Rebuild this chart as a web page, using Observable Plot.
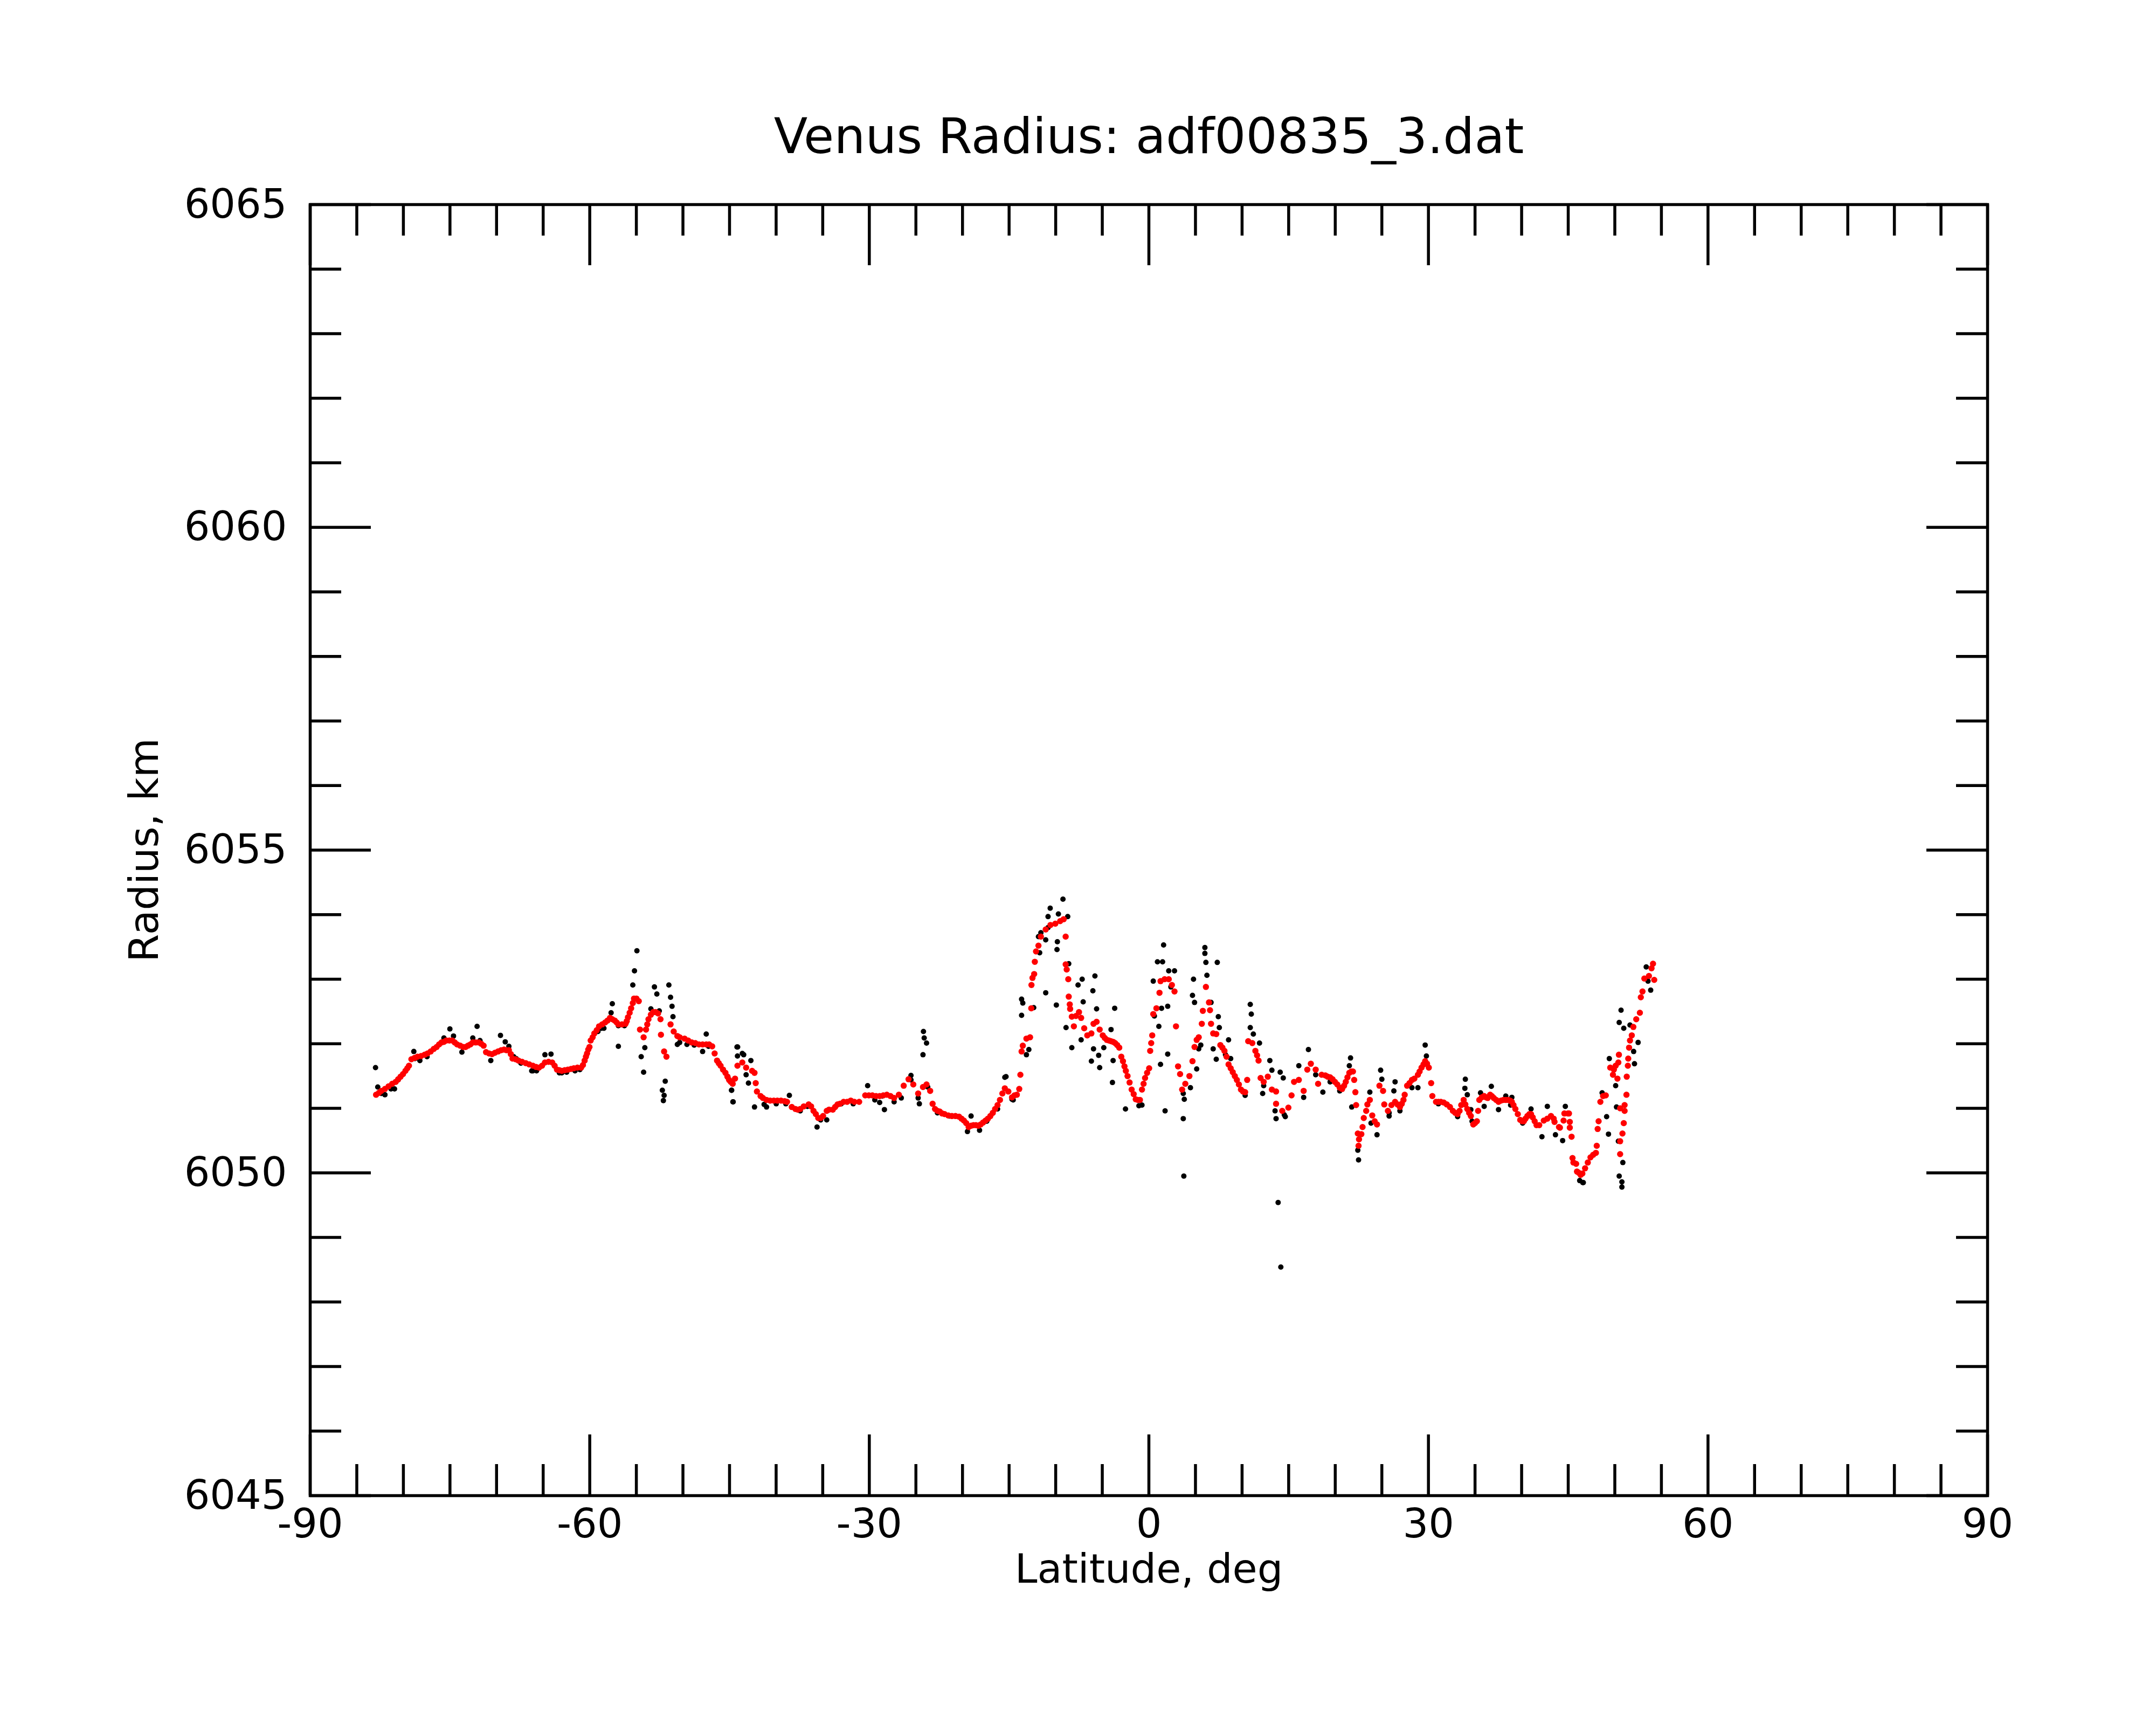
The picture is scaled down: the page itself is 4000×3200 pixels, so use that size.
<!DOCTYPE html>
<html>
<head>
<meta charset="utf-8">
<script src="https://cdn.jsdelivr.net/npm/d3@7"></script>
<script src="https://cdn.jsdelivr.net/npm/@observablehq/plot@0.6"></script>
<style>
html, body { margin: 0; padding: 0; background: #ffffff; }
svg { display: block; }
</style>
</head>
<body>
<div id="chart"></div>
<script>
// ---- text ----
const titleText = "Venus Radius: adf00835_3.dat";
const xLabelText = "Latitude, deg";
const yLabelText = "Radius, km";

// ---- ticks ----
const xMajorTicks = [-90, -60, -30, 0, 30, 60, 90];
const xMinorTicks = [-85, -80, -75, -70, -65, -55, -50, -45, -40, -35, -25, -20, -15, -10, -5,
  5, 10, 15, 20, 25, 35, 40, 45, 50, 55, 65, 70, 75, 80, 85];
const yMajorTicks = [6045, 6050, 6055, 6060, 6065];
const yMinorTicks = [6046, 6047, 6048, 6049, 6051, 6052, 6053, 6054, 6056, 6057, 6058, 6059,
  6061, 6062, 6063, 6064];

// ---- red (smoothed) series: [latitude, radius] ----
const redSouth = [
  [-82.93,6051.21],[-82.62,6051.24],[-82.37,6051.27],[-81.98,6051.30],[-81.59,6051.34],[-81.20,6051.38],
  [-80.82,6051.41],[-80.56,6051.45],[-80.30,6051.49],[-80.04,6051.53],[-79.78,6051.58],[-79.58,6051.62],
  [-79.40,6051.66],[-79.14,6051.76],[-78.80,6051.78],[-78.49,6051.80],[-78.10,6051.81],[-77.72,6051.83],
  [-77.41,6051.85],[-77.07,6051.88],[-76.74,6051.92],[-76.43,6051.95],[-76.17,6051.99],[-75.91,6052.02],
  [-75.65,6052.03],[-75.39,6052.05],[-75.06,6052.05],[-74.75,6052.05],[-74.49,6052.02],[-74.23,6051.99],
  [-73.90,6051.97],[-73.59,6051.95],[-73.33,6051.95],[-73.07,6051.97],[-72.81,6051.99],[-72.55,6052.02],
  [-72.24,6052.02],[-71.91,6052.02],[-71.65,6052.00],[-71.39,6051.97],[-71.13,6051.87],[-70.80,6051.85],
  [-70.49,6051.84],[-70.18,6051.86],[-69.84,6051.88],[-69.51,6051.90],[-69.20,6051.91],[-68.94,6051.90],
  [-68.68,6051.90],[-68.47,6051.84],[-68.29,6051.77],[-67.96,6051.76],[-67.65,6051.74],[-67.26,6051.72],
  [-66.87,6051.70],[-66.49,6051.68],[-66.10,6051.66],[-65.76,6051.64],[-65.45,6051.63],[-65.12,6051.66],
  [-64.81,6051.71],[-64.42,6051.72],[-64.03,6051.71],[-63.77,6051.66],[-63.52,6051.60],[-63.26,6051.59],
  [-63.00,6051.58],[-62.69,6051.59],[-62.35,6051.60],[-62.02,6051.61],[-61.71,6051.62],[-61.32,6051.63],
  [-60.93,6051.63],[-60.73,6051.67],[-60.55,6051.74],[-60.41,6051.80],[-60.29,6051.85],[-60.16,6051.91],
  [-60.03,6051.95],[-59.90,6052.05],[-59.69,6052.10],[-59.51,6052.16],[-59.25,6052.21],[-59.00,6052.27],
  [-58.66,6052.30],[-58.35,6052.33],[-58.09,6052.36],[-57.83,6052.40],[-57.58,6052.38],[-57.32,6052.36],
  [-57.11,6052.33],[-56.93,6052.30],[-56.54,6052.30],[-56.16,6052.31],[-56.03,6052.35],[-55.90,6052.41],
  [-55.72,6052.48],[-55.56,6052.55],[-55.38,6052.63],[-55.25,6052.70],[-54.99,6052.70],[-54.74,6052.66],
  [-54.61,6052.22],[-54.22,6052.10],[-53.96,6052.22],[-53.83,6052.30],[-53.70,6052.38],[-53.44,6052.45],
  [-53.19,6052.49],[-52.93,6052.49],[-52.67,6052.47],[-52.41,6052.38],[-52.36,6052.14],[-52.02,6051.88],
  [-51.77,6051.80],[-51.33,6052.30],[-50.99,6052.19],[-50.60,6052.12],[-50.35,6052.10],[-49.83,6052.08],
  [-49.44,6052.05],[-49.05,6052.02],[-48.67,6052.01],[-48.28,6051.99],[-47.89,6051.99],[-47.50,6051.99],
  [-47.19,6051.99],[-46.86,6051.96],[-46.60,6051.85],[-46.34,6051.74],[-46.16,6051.70],[-45.96,6051.66],
  [-45.70,6051.60],[-45.44,6051.55],[-45.23,6051.49],[-45.05,6051.44],[-44.87,6051.41],[-44.66,6051.38],
  [-44.41,6051.46],[-44.15,6051.66],[-43.63,6051.71]
];
const redMid = [
  [-43.22,6051.63],[-42.58,6051.58],[-42.32,6051.55],[-42.19,6051.39],[-42.06,6051.26],[-41.67,6051.19],
  [-41.42,6051.16],[-41.03,6051.13],[-40.64,6051.12],[-40.25,6051.12],[-39.87,6051.12],[-39.48,6051.12],
  [-39.09,6051.11],[-38.83,6051.10],[-38.32,6051.02],[-37.93,6050.99],[-37.67,6050.98],[-37.41,6050.99],
  [-37.03,6051.03],[-36.51,6051.06],[-36.25,6051.03],[-35.99,6050.96],[-35.74,6050.91],[-35.48,6050.85],
  [-35.22,6050.85],[-34.96,6050.88],[-34.57,6050.96],[-34.32,6050.98],[-33.92,6050.98],[-33.67,6051.02],
  [-33.41,6051.06],[-33.15,6051.07],[-32.76,6051.10],[-32.38,6051.10],[-31.99,6051.12],[-31.60,6051.10],
  [-31.09,6051.10],[-30.44,6051.20],[-30.05,6051.20],[-29.67,6051.20],[-29.28,6051.19],[-28.89,6051.19],
  [-28.50,6051.20],[-28.12,6051.21],[-27.73,6051.19],[-27.34,6051.16],[-26.83,6051.21],[-26.31,6051.35],
  [-25.79,6051.45],[-25.28,6051.37],[-24.76,6051.23],[-24.24,6051.33],[-23.86,6051.37],[-23.47,6051.27],
  [-23.21,6051.07],[-22.95,6050.99],[-22.69,6050.96],[-22.44,6050.95],[-22.18,6050.92],[-21.92,6050.91],
  [-21.53,6050.89],[-21.14,6050.88],[-20.76,6050.88],[-20.37,6050.87],[-20.11,6050.84],[-19.85,6050.81],
  [-19.60,6050.77],[-19.34,6050.71],[-19.08,6050.73],[-18.82,6050.74],[-18.56,6050.74],[-18.30,6050.73],
  [-18.05,6050.75],[-17.79,6050.78],[-17.53,6050.81],[-17.27,6050.84],[-17.01,6050.88],[-16.75,6050.93],
  [-16.50,6050.99],[-16.24,6051.05],[-15.98,6051.13],[-15.72,6051.23],[-15.46,6051.31],[-15.08,6051.26],
  [-14.69,6051.17],[-14.43,6051.20],[-14.17,6051.21],[-13.91,6051.30],[-13.79,6051.52],[-13.66,6051.88],
  [-13.53,6051.97],[-13.14,6052.08],[-12.75,6052.10],[-12.62,6052.55],[-12.60,6052.91],[-12.49,6053.02],
  [-12.31,6053.08],[-12.24,6053.27],[-12.11,6053.43],[-11.85,6053.52],[-11.59,6053.66],[-11.07,6053.77],
  [-10.56,6053.84],[-10.04,6053.86],[-9.52,6053.90],[-9.14,6053.93]
];
const redEquator = [
  [-8.93,6053.66],[-8.93,6053.23],[-8.82,6053.15],[-8.65,6053.00],[-8.60,6052.73],[-8.49,6052.61],
  [-8.45,6052.54],[-8.27,6052.42],[-8.05,6052.27],[-7.83,6052.43],[-7.50,6052.49],[-7.27,6052.40],
  [-6.94,6052.24],[-6.61,6052.13],[-6.17,6052.16],[-5.94,6052.31],[-5.61,6052.34],[-5.28,6052.22],
  [-4.95,6052.13],[-4.73,6052.09],[-4.51,6052.06],[-4.28,6052.05],[-4.06,6052.04],[-3.84,6052.03],
  [-3.62,6052.01],[-3.40,6051.98],[-3.18,6051.94],[-2.96,6051.80],[-2.78,6051.73],[-2.62,6051.65],
  [-2.47,6051.58],[-2.29,6051.50],[-2.07,6051.40],[-1.85,6051.29],[-1.63,6051.22],[-1.41,6051.14],
  [-1.18,6051.13],[-0.96,6051.13],[-0.74,6051.29],[-0.57,6051.38],[-0.41,6051.47],[-0.19,6051.55],
  [0.03,6051.62],[0.14,6051.89],[0.25,6052.01],[0.36,6052.13],[0.47,6052.46],
  [0.81,6052.55],[1.14,6052.79],[1.25,6052.97],[1.69,6053.00],[2.13,6053.00],[2.47,6052.91],
  [2.75,6052.81],[2.91,6052.27],[3.13,6051.65],[3.35,6051.53],[3.57,6051.29],[3.91,6051.38],
  [4.35,6051.50],[4.68,6051.73],[4.90,6051.95],[5.13,6052.06],[5.35,6052.10],[5.68,6052.31],
  [5.79,6052.51],[6.12,6052.88],[6.45,6052.64],[6.56,6052.52],[6.67,6052.31],[6.90,6052.16],
  [7.23,6052.15],[7.67,6051.98],[7.89,6051.94],[8.11,6051.89],[8.33,6051.80],[8.55,6051.68],
  [8.78,6051.62],[9.00,6051.56],[9.22,6051.50],[9.44,6051.44],[9.66,6051.37],[9.88,6051.29],
  [10.10,6051.26],[10.33,6051.25],[10.55,6051.44],[10.66,6052.04],[11.10,6052.01],[11.43,6051.89],
  [11.61,6051.82],[11.77,6051.74],[11.99,6051.47],[12.32,6051.41],[12.76,6051.49],[13.20,6051.29],
  [13.65,6051.26],[13.65,6051.07],[14.31,6050.96],[14.97,6051.01],[15.31,6051.20]
];
const redNorth = [
  [15.58,6051.41],[16.09,6051.44],[16.61,6051.27],[17.00,6051.60],[17.38,6051.69],[17.90,6051.60],
  [18.16,6051.38],[18.54,6051.52],[18.93,6051.51],[19.19,6051.49],[19.45,6051.48],[19.71,6051.45],
  [19.96,6051.41],[20.22,6051.37],[20.48,6051.32],[20.74,6051.30],[20.95,6051.35],[21.13,6051.41],
  [21.31,6051.48],[21.51,6051.55],[21.72,6051.57],[21.90,6051.57],[22.03,6051.44],[22.16,6051.25],
  [22.24,6051.05],[22.42,6050.61],[22.50,6050.42],[22.55,6050.52],[22.80,6050.60],[22.93,6050.71],
  [23.06,6050.85],[23.32,6050.96],[23.45,6051.06],[23.71,6051.13],[23.97,6050.89],[24.23,6050.80],
  [24.48,6050.75],[24.74,6051.35],[25.13,6051.27],[25.26,6051.06],[25.65,6050.96],[26.03,6051.05],
  [26.42,6051.10],[26.68,6051.06],[26.94,6051.02],[27.14,6051.07],[27.32,6051.13],[27.45,6051.21],
  [27.71,6051.35],[27.97,6051.39],[28.23,6051.44],[28.49,6051.46],[28.87,6051.52],[29.05,6051.57],
  [29.26,6051.63],[29.47,6051.68],[29.65,6051.73],[29.85,6051.69],[30.04,6051.63],[30.29,6051.39],
  [30.42,6051.19],[30.81,6051.10],[31.07,6051.10],[31.33,6051.10],[31.64,6051.09],[31.97,6051.06],
  [32.31,6051.02],[32.62,6050.96],[32.88,6050.93],[33.13,6050.91],[33.34,6050.96],[33.52,6051.05],
  [33.78,6051.13],[33.96,6051.06],[34.17,6050.99],[34.37,6050.93],[34.55,6050.88],[34.81,6050.75],
  [34.99,6050.77],[35.20,6050.80],[35.33,6050.96],[35.46,6051.13],[35.72,6051.17],[35.98,6051.19],
  [36.18,6051.17],[36.36,6051.16],[36.62,6051.21],[36.80,6051.19],[37.01,6051.16],[37.27,6051.13],
  [37.52,6051.10],[37.78,6051.12],[38.04,6051.13],[38.30,6051.13],[38.56,6051.13],[38.76,6051.12],
  [38.95,6051.10],[39.13,6051.05],[39.33,6050.99],[39.59,6050.91],[39.85,6050.82],[40.06,6050.80],
  [40.24,6050.80],[40.42,6050.84],[40.62,6050.88],[40.83,6050.91],[41.01,6050.91],[41.19,6050.86],
  [41.40,6050.80],[41.60,6050.74]
];
const redFarNorth = [
  [41.89,6050.74],[42.38,6050.81],[42.76,6050.84],[43.15,6050.88],[43.44,6050.84],[43.53,6050.79],
  [44.01,6050.71],[44.11,6050.70],[44.50,6050.81],[44.59,6050.92],[44.98,6050.92],[45.08,6050.92],
  [45.17,6050.79],[45.17,6050.70],[45.36,6050.56],[45.46,6050.23],[45.56,6050.16],[45.85,6050.14],
  [45.94,6050.02],[46.14,6050.00],[46.33,6049.97],[46.52,6049.99],[46.81,6050.07],[47.10,6050.16],
  [47.39,6050.24],[47.68,6050.28],[47.97,6050.31],[48.06,6050.42],[48.16,6050.68],[48.26,6050.80],
  [48.45,6051.10],[48.74,6051.19],[49.03,6051.20],[49.51,6051.63],[49.80,6051.52],[49.90,6051.60],
  [50.09,6051.66],[50.28,6051.46],[50.38,6051.71],[50.44,6051.83],[50.57,6051.00],[51.05,6051.05],
  [51.05,6050.96],[50.96,6050.77],[50.82,6050.61],[50.57,6050.49],[50.57,6050.29],[51.25,6051.21],
  [51.28,6051.49],[51.40,6051.66],[51.44,6051.77],[51.53,6051.94],[51.63,6052.05],[51.82,6052.13],
  [51.99,6052.26],[52.30,6052.38],[52.69,6052.48],[52.79,6052.72],[52.97,6052.81],[53.17,6053.01],
  [53.66,6053.05],[54.23,6052.99],[53.94,6053.17],[54.10,6053.24]
];

// ---- black (raw) series: [latitude, radius] ----
const blackSouth = [
  [-82.99,6051.63],[-82.75,6051.33],[-82.37,6051.23],[-81.98,6051.21],[-81.33,6051.30],[-80.95,6051.30],
  [-80.56,6051.44],[-78.88,6051.88],[-78.75,6051.77],[-78.23,6051.74],[-77.46,6051.80],[-75.65,6052.09],
  [-75.01,6052.23],[-74.62,6052.12],[-73.72,6051.87],[-72.09,6052.27],[-72.55,6052.09],[-71.78,6052.05],
  [-70.62,6051.74],[-69.58,6052.13],[-69.07,6052.03],[-68.68,6051.96],[-68.16,6051.80],[-67.90,6051.77],
  [-67.39,6051.70],[-66.23,6051.58],[-66.10,6051.58],[-65.71,6051.58],[-64.81,6051.83],[-64.16,6051.84],
  [-63.26,6051.55],[-63.00,6051.55],[-62.48,6051.56],[-61.58,6051.58],[-61.06,6051.60],[-59.12,6052.19],
  [-58.74,6052.24],[-58.48,6052.24],[-57.58,6052.62],[-57.71,6052.48],[-56.93,6051.96],[-56.93,6052.28],
  [-56.28,6052.28],[-55.38,6052.91],[-55.20,6053.13],[-54.94,6053.44],[-54.48,6051.80],[-54.22,6051.56],
  [-54.09,6051.94],[-53.44,6052.54],[-53.06,6052.88],[-52.80,6052.77],[-52.54,6052.51],[-51.90,6051.42],
  [-52.21,6051.28],[-52.02,6051.20],[-52.10,6051.12],[-51.51,6052.91],[-51.33,6052.72],[-51.17,6052.58],
  [-51.07,6052.42],[-50.60,6051.99],[-50.35,6052.02],[-49.57,6051.99],[-48.79,6051.98],[-47.50,6052.15],
  [-47.89,6051.88],[-47.25,6051.96],[-45.70,6051.60],[-45.18,6051.49],[-44.79,6051.28],[-44.61,6051.10],
  [-44.20,6051.95],[-44.15,6051.81],[-43.63,6051.85]
];
const blackMid = [
  [-44.13,6051.95],[-43.48,6051.83],[-42.71,6051.74],[-43.22,6051.52],[-42.97,6051.39],[-44.64,6051.10],
  [-44.77,6051.28],[-42.32,6051.02],[-41.29,6051.06],[-41.03,6051.02],[-39.99,6051.07],[-38.96,6051.07],
  [-38.58,6051.20],[-37.41,6050.96],[-36.64,6051.03],[-35.61,6050.71],[-35.22,6050.82],[-34.57,6050.82],
  [-33.02,6051.07],[-31.73,6051.07],[-30.18,6051.35],[-29.41,6051.13],[-28.63,6051.19],[-28.38,6050.98],
  [-28.89,6051.09],[-27.34,6051.10],[-26.57,6051.16],[-25.53,6051.51],[-25.53,6051.44],[-24.76,6051.16],
  [-24.63,6051.07],[-24.19,6052.19],[-24.11,6052.09],[-23.86,6052.01],[-24.24,6051.83],[-23.73,6051.33],
  [-22.69,6050.93],[-21.40,6050.88],[-20.11,6050.84],[-19.47,6050.64],[-19.08,6050.88],[-18.17,6050.66],
  [-17.40,6050.80],[-16.24,6050.99],[-15.46,6051.48],[-15.33,6051.49],[-14.69,6051.14],[-14.56,6051.13],
  [-13.66,6052.69],[-13.53,6052.63],[-13.66,6052.44],[-13.14,6051.83],[-12.88,6051.91],[-12.36,6052.56],
  [-11.85,6053.66],[-11.72,6053.41],[-11.59,6053.72],[-11.07,6053.61],[-10.82,6053.80],[-10.82,6053.97],
  [-11.07,6052.79],[-10.59,6054.10]
];
const blackEquator = [
  [-9.22,6054.24],[-9.71,6054.01],[-8.71,6053.97],[-9.82,6053.58],[-9.86,6053.46],[-9.93,6052.60],
  [-8.60,6053.24],[-7.16,6053.00],[-5.79,6053.05],[-7.60,6052.91],[-6.01,6052.82],[-7.05,6052.65],
  [-5.61,6052.54],[-3.67,6052.55],[-8.89,6052.25],[-8.27,6051.94],[-7.27,6052.06],[-5.94,6051.92],
  [-5.39,6051.82],[-6.17,6051.73],[-5.28,6051.63],[-4.84,6051.94],[-4.06,6052.22],[-3.84,6051.74],
  [-3.91,6051.40],[-2.51,6050.99],[-1.07,6051.04],[-0.74,6051.05],[0.47,6052.97],[0.59,6052.43],
  [0.92,6053.27],[1.36,6052.55],[1.47,6053.27],[1.58,6053.53],[2.13,6053.13],[2.36,6052.88],
  [2.75,6053.13],[1.07,6052.27],[1.25,6051.68],[2.02,6052.58],[2.02,6051.84],[1.74,6050.96],
  [3.69,6050.84],[3.69,6051.23],[3.80,6051.14],[3.75,6049.95],[4.46,6051.32],[4.79,6053.00],
  [4.68,6052.75],[4.90,6052.64],[5.57,6051.98],[6.01,6053.49],[6.01,6053.40],[6.12,6053.26],
  [7.34,6053.26],[6.23,6053.06],[6.67,6052.64],[7.45,6052.42],[7.56,6052.25],[6.90,6051.92],
  [7.23,6051.76],[8.55,6052.06],[8.22,6051.83],[8.78,6051.77],[5.13,6051.61],[5.35,6051.92],
  [10.33,6051.20],[10.88,6052.61],[10.99,6052.46],[10.88,6052.25],[11.21,6052.15],[11.87,6052.01],
  [12.21,6051.23],[12.32,6051.35],[12.98,6051.74],[13.20,6051.59],[13.54,6050.96],[13.65,6050.84],
  [13.87,6049.54],[14.16,6048.54],[14.09,6051.56],[14.42,6051.47],[14.53,6050.90],[14.64,6050.87]
];
const blackNorth = [
  [16.09,6051.66],[16.61,6051.17],[17.12,6051.91],[17.90,6051.52],[18.67,6051.25],[19.45,6051.41],
  [20.48,6051.27],[21.64,6051.78],[21.51,6051.66],[21.77,6051.02],[22.42,6050.35],[22.50,6050.20],
  [23.71,6051.25],[23.84,6050.77],[24.48,6050.59],[24.87,6051.59],[25.00,6051.45],[25.78,6050.93],
  [26.42,6051.41],[26.29,6051.27],[25.78,6050.88],[26.94,6050.96],[28.23,6051.32],[28.87,6051.32],
  [29.65,6051.98],[29.78,6051.81],[31.07,6051.07],[33.13,6050.87],[33.96,6051.45],[33.91,6051.31],
  [34.17,6051.21],[34.55,6050.98],[34.68,6050.80],[35.59,6051.24],[35.98,6051.03],[36.75,6051.34],
  [37.52,6050.98],[38.30,6051.19],[38.82,6051.05],[38.95,6051.17],[40.11,6050.77],[41.01,6050.99]
];
const blackFarNorth = [
  [42.76,6051.03],[44.69,6051.03],[42.18,6050.56],[43.63,6050.59],[44.40,6050.50],[46.23,6049.88],
  [46.56,6049.85],[46.62,6049.85],[49.12,6050.87],[49.32,6050.60],[48.64,6051.24],[49.41,6051.77],
  [50.47,6052.33],[50.67,6052.52],[50.96,6052.24],[51.63,6052.29],[52.50,6052.02],[52.02,6051.88],
  [52.11,6051.69],[50.09,6051.35],[50.18,6051.02],[50.38,6050.49],[50.86,6050.16],[50.47,6049.95],
  [50.76,6049.86],[50.76,6049.78],[53.37,6053.19],[53.85,6052.83],[53.56,6052.97]
];

const redData = [...redSouth, ...redMid, ...redEquator, ...redNorth, ...redFarNorth];
const blackData = [...blackSouth, ...blackMid, ...blackEquator, ...blackNorth, ...blackFarNorth];

// ---- layout ----
const W = 4000, H = 3200;
const mL = 575, mR = 313, mT = 379, mB = 426;
const FW = W - mL - mR, FH = H - mT - mB;
const majorLen = 113, minorLen = 58, lw = 5.5;
const tickFont = 75, titleFont = 91.5;

const chart = Plot.plot({
  width: W, height: H,
  marginLeft: mL, marginRight: mR, marginTop: mT, marginBottom: mB,
  x: {domain: [-90, 90]},
  y: {domain: [6045, 6065]},
  style: {fontFamily: "DejaVu Sans", background: "#ffffff", color: "#000000", overflow: "visible"},
  marks: [
    Plot.dot(blackData, {x: d => d[0], y: d => d[1], r: 5, fill: "#000000"}),
    Plot.dot(redData, {x: d => d[0], y: d => d[1], r: 5.75, fill: "#ff0000"}),
    Plot.frame({stroke: "#000000", strokeWidth: lw}),
    Plot.tickX(xMajorTicks, {x: d => d, insetTop: FH - majorLen, stroke: "#000", strokeWidth: lw}),
    Plot.tickX(xMajorTicks, {x: d => d, insetBottom: FH - majorLen, stroke: "#000", strokeWidth: lw}),
    Plot.tickX(xMinorTicks, {x: d => d, insetTop: FH - minorLen, stroke: "#000", strokeWidth: lw}),
    Plot.tickX(xMinorTicks, {x: d => d, insetBottom: FH - minorLen, stroke: "#000", strokeWidth: lw}),
    Plot.tickY(yMajorTicks, {y: d => d, insetRight: FW - majorLen, stroke: "#000", strokeWidth: lw}),
    Plot.tickY(yMajorTicks, {y: d => d, insetLeft: FW - majorLen, stroke: "#000", strokeWidth: lw}),
    Plot.tickY(yMinorTicks, {y: d => d, insetRight: FW - minorLen, stroke: "#000", strokeWidth: lw}),
    Plot.tickY(yMinorTicks, {y: d => d, insetLeft: FW - minorLen, stroke: "#000", strokeWidth: lw}),
    Plot.axisX({ticks: xMajorTicks, anchor: "bottom", tickSize: 0, tickPadding: 24, fontSize: tickFont,
      tickFormat: d => String(d), label: null}),
    Plot.axisY({ticks: yMajorTicks, anchor: "left", tickSize: 0, tickPadding: 43, fontSize: tickFont,
      tickFormat: d => String(d), label: null}),
    Plot.text([titleText], {frameAnchor: "top", dy: -125, fontSize: titleFont, lineAnchor: "middle",
      textAnchor: "middle"}),
    Plot.text([xLabelText], {frameAnchor: "bottom", dy: 137, fontSize: tickFont, lineAnchor: "middle",
      textAnchor: "middle"}),
    Plot.text([yLabelText], {frameAnchor: "left", dx: -307, rotate: -90, fontSize: tickFont,
      lineAnchor: "middle", textAnchor: "middle"})
  ]
});
document.getElementById("chart").appendChild(chart);
</script>
</body>
</html>
